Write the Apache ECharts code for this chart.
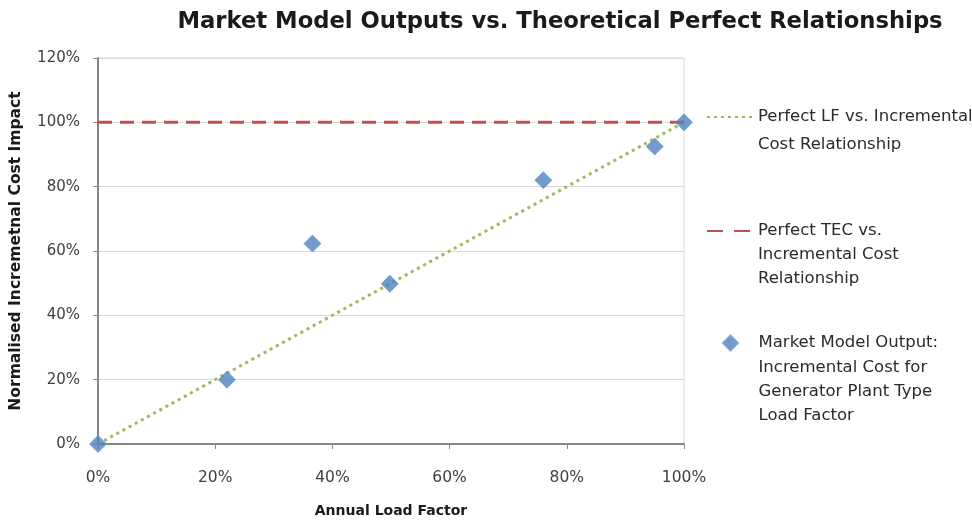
<!DOCTYPE html>
<html><head><meta charset="utf-8">
<script src="https://cdn.jsdelivr.net/npm/echarts@6/dist/echarts.min.js"></script>
<style>html,body{margin:0;padding:0;background:#fff;overflow:hidden}#c{width:972px;height:523px}</style>
</head><body><div id="c"></div>
<script>
var titleText = 'Market Model Outputs vs. Theoretical Perfect Relationships';
var xName = 'Annual Load Factor';
var yName = 'Normalised Incremetnal Cost Impact';
var loadFactor = [0, 22, 36.6, 49.8, 76, 95, 100];
var costImpact = [0, 20, 62.3, 49.8, 82, 92.5, 100];
var perfectLF = [[0, 0], [100, 100]];
var perfectTEC = [[0, 100], [100, 100]];
var nameLF = 'Perfect LF vs. Incremental\nCost Relationship';
var nameTEC = 'Perfect TEC vs.\nIncremental Cost\nRelationship';
var nameMM = 'Market Model Output:\nIncremental Cost for\nGenerator Plant Type\nLoad Factor';

var FONT = 'DejaVu Sans';
var chart = echarts.init(document.getElementById('c'));

// first text line aligned with the legend icon: prepend (n-1) empty lines so the block stays centred
function shiftFormatter(name) {
  var n = name.split('\n').length;
  return new Array(n).join('\n') + name;
}
function makeLegend(name, firstLineY, lh, left, itemH, extra) {
  var n = name.split('\n').length;
  var boxH = (2 * n - 1) * lh;
  return {
    data: [extra ? Object.assign({ name: name }, extra) : name],
    left: left, top: firstLineY - boxH / 2, padding: 0,
    itemWidth: 46, itemHeight: itemH, symbolKeepAspect: true,
    formatter: shiftFormatter,
    textStyle: { fontFamily: FONT, fontSize: 16.5, color: '#2a2a2a', lineHeight: lh }
  };
}
var legLF = makeLegend(nameLF, 117, 28, 706, 14);
legLF.itemStyle = { color: 'rgba(0,0,0,0)', borderWidth: 0, opacity: 0 };
var legTEC = makeLegend(nameTEC, 231, 24, 706, 14);
legTEC.itemStyle = { color: 'rgba(0,0,0,0)', borderWidth: 0, opacity: 0 };
legTEC.lineStyle = { type: [16, 11] };
var legMM = makeLegend(nameMM, 343, 24.3, 722, 15, { icon: 'path://M0,-10L10,0L0,10L-10,0Z' });

chart.setOption({
  animation: false,
  textStyle: { fontFamily: FONT },
  title: {
    text: titleText, left: 555, textAlign: 'center', top: 6,
    textStyle: { fontFamily: FONT, fontSize: 22.7, fontWeight: 'bold', color: '#1a1a1a' }
  },
  grid: { left: 98, right: 288, top: 58, bottom: 79, show: true, borderColor: '#d9d9d9', borderWidth: 1, outerBoundsMode: 'none', containLabel: false },
  legend: [legLF, legTEC, legMM],
  xAxis: {
    type: 'value', min: 0, max: 100, interval: 20,
    name: xName, nameLocation: 'middle', nameGap: 60,
    nameTextStyle: { fontFamily: FONT, fontSize: 14, fontWeight: 'bold', color: '#1a1a1a' },
    axisLine: { show: true, lineStyle: { color: '#868686', width: 2 } },
    axisTick: { show: true, length: 5, lineStyle: { color: '#868686' } },
    axisLabel: { margin: 26, formatter: '{value}%', fontFamily: FONT, fontSize: 15.5, color: '#404040' },
    splitLine: { show: false }
  },
  yAxis: {
    type: 'value', min: 0, max: 120, interval: 20,
    name: yName, nameLocation: 'middle', nameGap: 74, nameRotate: 90,
    nameTextStyle: { fontFamily: FONT, fontSize: 15.5, fontWeight: 'bold', color: '#1a1a1a' },
    axisLine: { show: true, lineStyle: { color: '#868686', width: 2 } },
    axisTick: { show: true, length: 5, lineStyle: { color: '#868686' } },
    axisLabel: { margin: 18, formatter: '{value}%', fontFamily: FONT, fontSize: 15, color: '#404040' },
    splitLine: { show: true, lineStyle: { color: '#d9d9d9', width: 1 } }
  },
  series: [
    { name: nameLF, type: 'line', data: perfectLF, symbol: 'none', z: 2,
      lineStyle: { color: '#9bbb59', width: 3, type: [3, 4] }, itemStyle: { color: '#9bbb59' } },
    { name: nameTEC, type: 'line', data: perfectTEC, symbol: 'none', z: 2,
      lineStyle: { color: '#c0504d', width: 3, type: [14, 8] }, itemStyle: { color: '#c0504d' } },
    { name: nameMM, type: 'scatter', symbol: 'diamond', symbolSize: 17, z: 3,
      data: loadFactor.map(function (x, i) { return [x, costImpact[i]]; }),
      itemStyle: { color: '#4f81bd', borderColor: '#6d9bd6', borderWidth: 1 } }
  ]
});
</script></body></html>
